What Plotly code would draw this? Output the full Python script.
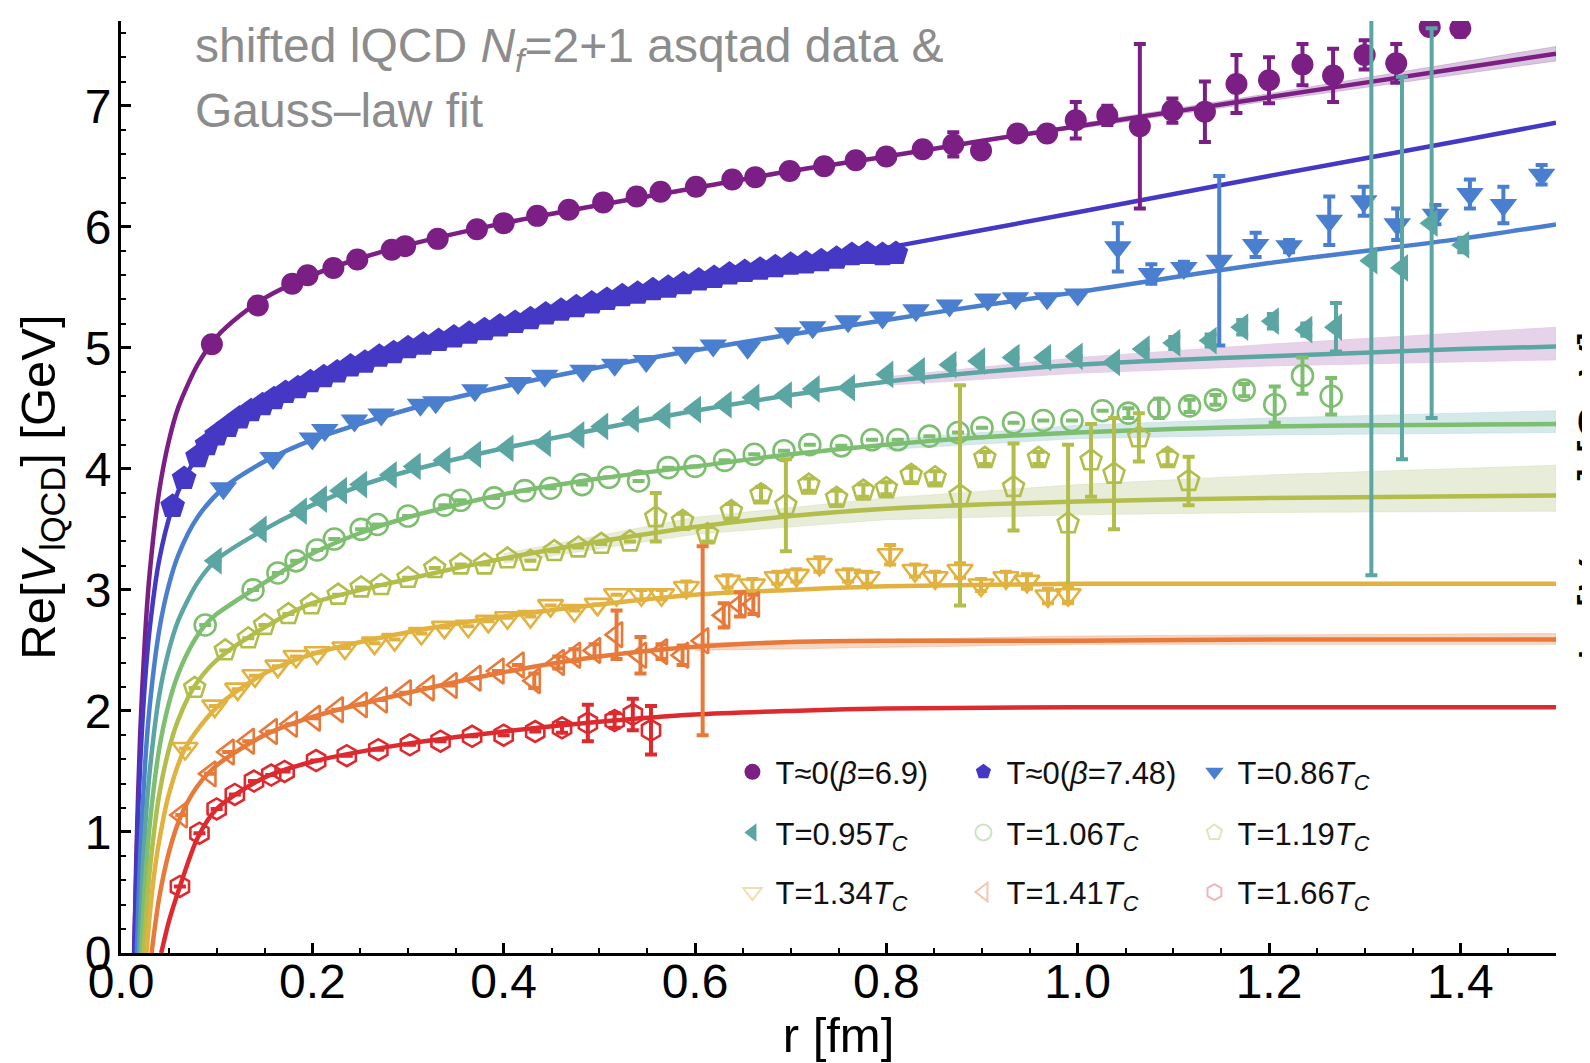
import plotly.graph_objects as go

# ---------------- data ----------------
# T~0 (beta=6.9), filled circles
rA = [0.095,0.143,0.179,0.195,0.222,0.247,0.283,0.297,0.331,0.372,0.400,0.435,0.468,0.504,0.539,0.564,0.601,0.639,0.663,0.699,0.735,0.768,0.800,0.838,0.870,0.899,0.937,0.968,0.998,1.031,1.065,1.099,1.133,1.166,1.200,1.235,1.267,1.300,1.333,1.368,1.400]
VA = [5.03,5.35,5.53,5.60,5.66,5.73,5.81,5.84,5.90,5.98,6.03,6.09,6.14,6.20,6.25,6.29,6.33,6.39,6.41,6.46,6.50,6.55,6.58,6.64,6.68,6.63,6.77,6.77,6.88,6.92,6.83,6.96,6.95,7.18,7.21,7.34,7.25,7.42,7.35,7.65,7.64]
eA = [0]*23 + [0.04,0.1,0.05,0.05,0.05,0.15,0.08,0.68,0.1,0.25,0.24,0.19,0.17,0.22,0.12,0.16,0.06,0.07]

# T~0 (beta=7.48), filled pentagons
rB = [0.054,0.066,0.080,0.090,0.100,0.112,0.124,0.136,0.148,0.160,0.172,0.185,0.198,0.212,0.226,0.240,0.255,0.270,0.285,0.300,0.316,0.332,0.348,0.364,0.380,0.396,0.412,0.428,0.444,0.460,0.476,0.492,0.508,0.524,0.540,0.556,0.572,0.588,0.604,0.620,0.636,0.652,0.668,0.684,0.700,0.716,0.732,0.748,0.764,0.780,0.796,0.810]
VB = [3.69,3.92,4.10,4.20,4.28,4.35,4.42,4.48,4.53,4.58,4.63,4.67,4.72,4.76,4.80,4.85,4.88,4.93,4.96,5.00,5.03,5.06,5.09,5.12,5.15,5.18,5.21,5.24,5.28,5.31,5.34,5.37,5.40,5.43,5.45,5.48,5.50,5.53,5.56,5.58,5.61,5.63,5.65,5.67,5.69,5.70,5.72,5.74,5.77,5.78,5.77,5.78]

# T=0.86 Tc, filled down-triangles
rC = [0.107,0.159,0.200,0.213,0.244,0.272,0.313,0.329,0.370,0.415,0.443,0.483,0.516,0.549,0.590,0.619,0.655,0.697,0.723,0.760,0.796,0.831,0.866,0.906,0.935,0.968,1.000,1.042,1.077,1.111,1.148,1.186,1.221,1.263,1.299,1.334,1.374,1.410,1.445,1.485]
VC = [3.84,4.09,4.25,4.32,4.40,4.45,4.53,4.55,4.65,4.71,4.77,4.81,4.86,4.89,4.96,5.02,5.00,5.12,5.17,5.22,5.25,5.31,5.35,5.40,5.41,5.41,5.44,5.83,5.61,5.66,5.72,5.85,5.84,6.05,6.21,6.02,6.10,6.27,6.18,6.43]
eC = [0]*27 + [0.2,0.08,0.05,0.7,0.1,0.05,0.2,0.12,0.13,0.08,0.12,0.15,0.08]

# T=0.95 Tc, filled left-triangles
rD = [0.099,0.146,0.188,0.209,0.230,0.251,0.282,0.307,0.338,0.370,0.404,0.443,0.478,0.503,0.535,0.568,0.600,0.632,0.661,0.695,0.724,0.761,0.801,0.834,0.867,0.897,0.933,0.966,0.999,1.038,1.069,1.101,1.139,1.172,1.204,1.239,1.270,1.307,1.339,1.370,1.403]
VD = [3.24,3.50,3.65,3.75,3.82,3.87,3.95,4.02,4.07,4.12,4.17,4.21,4.28,4.35,4.41,4.44,4.49,4.53,4.59,4.61,4.66,4.67,4.78,4.81,4.86,4.89,4.92,4.92,4.93,4.88,4.99,5.04,5.06,5.17,5.22,5.15,5.17,5.72,5.66,6.03,5.85]
eD = [0]*31 + [0.05,0.05,0.06,0.06,0.05,0.2,2.6,1.58,1.61,0.06]

# T=1.06 Tc, open circles
rE = [0.088,0.138,0.164,0.183,0.205,0.223,0.251,0.268,0.300,0.338,0.355,0.390,0.422,0.449,0.482,0.510,0.541,0.572,0.600,0.631,0.662,0.693,0.720,0.753,0.785,0.812,0.845,0.875,0.900,0.933,0.964,0.994,1.026,1.053,1.085,1.117,1.144,1.174,1.206,1.235,1.265]
VE = [2.71,3.00,3.14,3.24,3.33,3.42,3.50,3.54,3.61,3.70,3.74,3.76,3.82,3.84,3.87,3.93,3.90,4.01,4.02,4.07,4.12,4.15,4.20,4.19,4.24,4.24,4.27,4.30,4.34,4.38,4.40,4.40,4.48,4.46,4.50,4.52,4.57,4.65,4.53,4.77,4.60]
eE = [0]*33 + [0.04,0.08,0.05,0.04,0.05,0.15,0.15,0.15]

# T=1.19 Tc, open pentagons
rF = [0.077,0.109,0.133,0.150,0.175,0.199,0.227,0.251,0.272,0.300,0.328,0.355,0.380,0.404,0.428,0.453,0.478,0.502,0.532,0.559,0.587,0.613,0.638,0.669,0.695,0.719,0.748,0.776,0.800,0.826,0.851,0.877,0.903,0.933,0.959,0.990,1.014,1.038,1.064,1.094,1.116]
VF = [2.19,2.50,2.60,2.71,2.80,2.88,2.96,3.02,3.04,3.10,3.18,3.21,3.21,3.26,3.24,3.32,3.35,3.38,3.40,3.60,3.57,3.46,3.65,3.79,3.70,3.87,3.76,3.82,3.84,3.95,3.93,3.78,4.09,3.85,4.09,3.55,4.07,3.96,4.26,4.09,3.90]
eF = [0]*19 + [0.2,0.06,0.06,0.06,0.06,0.38,0.05,0.06,0.05,0.05,0.06,0.05,0.91,0.05,0.36,0.05,0.65,0.3,0.46,0.2,0.06,0.2]

# T=1.34 Tc, open down-triangles
rG = [0.067,0.098,0.122,0.140,0.164,0.183,0.205,0.234,0.265,0.286,0.314,0.338,0.363,0.384,0.404,0.428,0.449,0.474,0.498,0.518,0.544,0.565,0.591,0.634,0.660,0.686,0.706,0.730,0.760,0.780,0.804,0.830,0.851,0.877,0.899,0.925,0.947,0.969,0.990]
VG = [1.69,2.04,2.18,2.29,2.37,2.45,2.48,2.52,2.56,2.59,2.64,2.69,2.70,2.74,2.77,2.78,2.87,2.83,2.88,2.96,2.96,2.96,3.02,3.07,3.04,3.10,3.12,3.21,3.12,3.10,3.29,3.16,3.10,3.16,3.04,3.10,3.07,2.95,2.96]
eG = [0]*20 + [0.04,0.04,0.05,0.05,0.05,0.05,0.05,0.06,0.05,0.05,0.08,0.05,0.05,0.06,0.05,0.05,0.06,0.06,0.07]

# T=1.41 Tc, open left-triangles
rH = [0.063,0.093,0.112,0.133,0.157,0.178,0.202,0.226,0.251,0.272,0.297,0.321,0.345,0.370,0.394,0.415,0.432,0.457,0.474,0.495,0.518,0.543,0.565,0.587,0.608,0.630,0.647,0.661]
VH = [1.14,1.48,1.66,1.75,1.83,1.89,1.94,2.01,2.05,2.09,2.15,2.19,2.21,2.27,2.33,2.38,2.25,2.40,2.46,2.50,2.63,2.46,2.49,2.46,2.58,2.79,2.88,2.88]
eH = [0]*16 + [0.06,0.05,0.05,0.05,0.2,0.15,0.06,0.08,0.78,0.1,0.1,0.08]

# T=1.66 Tc, open hexagons
rI = [0.0616,0.082,0.100,0.119,0.139,0.157,0.171,0.204,0.236,0.269,0.302,0.334,0.367,0.400,0.433,0.461,0.488,0.516,0.535,0.554]
VI = [0.55,0.99,1.19,1.31,1.42,1.47,1.50,1.59,1.63,1.68,1.72,1.75,1.79,1.80,1.83,1.86,1.90,1.92,1.97,1.84]
eI = [0]*15 + [0.04,0.15,0.06,0.13,0.2]

# Gauss-law fit curves
fitA_r = [0.0138,0.016,0.02,0.025,0.03,0.04,0.05,0.06,0.08,0.1,0.125,0.15,0.2,0.25,0.3,0.4,0.5,0.6,0.7,0.8,0.9,1.0,1.2,1.4,1.5]
fitA_V = [0.0,0.79,1.80,2.60,3.14,3.82,4.23,4.51,4.86,5.09,5.27,5.41,5.60,5.74,5.85,6.03,6.18,6.32,6.46,6.58,6.71,6.83,7.07,7.31,7.43]
fitB_r = [0.0137,0.017,0.02,0.025,0.03,0.04,0.054,0.066,0.08,0.1,0.125,0.15,0.2,0.25,0.3,0.4,0.5,0.6,0.7,0.81,1.0,1.2,1.4,1.5]
fitB_V = [0.0,0.95,1.55,2.23,2.68,3.25,3.69,3.92,4.10,4.28,4.43,4.54,4.73,4.88,5.00,5.19,5.39,5.55,5.69,5.84,6.12,6.42,6.71,6.86]
fitC_r = [0.0165,0.02,0.025,0.03,0.04,0.05,0.06,0.08,0.107,0.15,0.2,0.3,0.4,0.5,0.6,0.7,0.8,0.9,1.0,1.2,1.4,1.5]
fitC_V = [0.0,0.79,1.54,2.04,2.67,3.04,3.29,3.60,3.84,4.06,4.24,4.49,4.68,4.84,4.98,5.11,5.23,5.35,5.46,5.70,5.90,6.02]
fitD_r = [0.0188,0.022,0.026,0.03,0.04,0.05,0.06,0.08,0.1,0.15,0.2,0.25,0.3,0.4,0.5,0.6,0.7,0.8,0.9,1.0,1.1,1.2,1.3,1.4,1.5]
fitD_V = [0.0,0.59,1.12,1.50,2.13,2.50,2.75,3.06,3.25,3.50,3.70,3.86,3.98,4.17,4.33,4.48,4.61,4.72,4.80,4.86,4.90,4.93,4.96,4.99,5.01]
fitE_r = [0.021,0.025,0.03,0.04,0.05,0.06,0.075,0.088,0.1,0.15,0.2,0.25,0.3,0.4,0.5,0.6,0.7,0.8,0.9,1.0,1.2,1.5]
fitE_V = [0.0,0.56,1.06,1.69,2.06,2.31,2.56,2.71,2.80,3.06,3.30,3.47,3.60,3.79,3.92,4.02,4.12,4.20,4.26,4.30,4.35,4.37]
fitF_r = [0.0236,0.027,0.03,0.04,0.05,0.06,0.0765,0.1,0.15,0.2,0.3,0.4,0.5,0.6,0.7,0.8,1.0,1.2,1.5]
fitF_V = [0.0,0.40,0.68,1.31,1.68,1.93,2.20,2.42,2.69,2.89,3.09,3.26,3.40,3.52,3.61,3.67,3.73,3.76,3.78]
fitG_r = [0.0267,0.03,0.035,0.04,0.05,0.067,0.1,0.15,0.2,0.3,0.4,0.5,0.6,0.7,0.8,1.0,1.2,1.5]
fitG_V = [0.0,0.31,0.67,0.93,1.31,1.69,2.03,2.31,2.47,2.65,2.78,2.88,2.96,3.00,3.03,3.05,3.05,3.05]
fitH_r = [0.032,0.035,0.04,0.05,0.063,0.08,0.1,0.15,0.2,0.3,0.4,0.5,0.6,0.7,0.8,1.0,1.2,1.5]
fitH_V = [0.0,0.19,0.46,0.83,1.14,1.38,1.55,1.80,1.95,2.15,2.32,2.45,2.53,2.57,2.58,2.58,2.59,2.59]
fitI_r = [0.042,0.045,0.05,0.0616,0.08,0.1,0.15,0.2,0.3,0.4,0.5,0.6,0.7,0.8,1.0,1.2,1.5]
fitI_V = [0.0,0.10,0.26,0.55,0.95,1.19,1.45,1.58,1.73,1.83,1.91,1.97,2.00,2.02,2.03,2.03,2.03]

# fit-uncertainty bands
bandA_r = [1.0,1.2,1.5];            bandA_lo = [6.81,7.04,7.37];            bandA_hi = [6.85,7.10,7.49]
bandD_r = [0.8,1.0,1.2,1.5];        bandD_lo = [4.69,4.79,4.85,4.90];       bandD_hi = [4.76,4.92,5.03,5.17]
bandE_r = [0.8,1.0,1.2,1.5];        bandE_lo = [4.16,4.25,4.28,4.30];       bandE_hi = [4.24,4.36,4.42,4.48]
bandF_r = [0.4,0.6,0.8,1.0,1.2,1.5]; bandF_lo = [3.22,3.46,3.58,3.62,3.64,3.65]; bandF_hi = [3.30,3.60,3.76,3.87,3.95,4.03]
bandH_r = [0.6,1.0,1.5];            bandH_lo = [2.50,2.55,2.55];            bandH_hi = [2.56,2.62,2.64]

labels = ["T≈0(<i>β</i>=6.9)", "T≈0(<i>β</i>=7.48)", "T=0.86<i>T</i><sub><i>C</i></sub>",
          "T=0.95<i>T</i><sub><i>C</i></sub>", "T=1.06<i>T</i><sub><i>C</i></sub>", "T=1.19<i>T</i><sub><i>C</i></sub>",
          "T=1.34<i>T</i><sub><i>C</i></sub>", "T=1.41<i>T</i><sub><i>C</i></sub>", "T=1.66<i>T</i><sub><i>C</i></sub>"]

# ---------------- styling ----------------
cols = ['#7B1F84', '#4438C4', '#4A7ECF', '#5BA6A3', '#7DBE70', '#B2BD4B', '#E2B240', '#E7793A', '#DD2A2F']
legcols = ['#7B1F84', '#4438C4', '#4A7ECF', '#5BA6A3', '#C9E4C2', '#E2E6BC', '#F2DDB0', '#F4C6AC', '#F0B6BA']
symbols = ['circle', 'pentagon', 'triangle-down', 'triangle-left', 'circle-open',
           'pentagon-open', 'triangle-down-open', 'triangle-left-open', 'hexagon-open']
sizes = [22, 26, 24, 24, 21, 22, 22, 22, 21]
FONT = "Liberation Sans, Arial, sans-serif"

series = [(rA, VA, eA), (rB, VB, [0]*len(rB)), (rC, VC, eC), (rD, VD, eD), (rE, VE, eE),
          (rF, VF, eF), (rG, VG, eG), (rH, VH, eH), (rI, VI, eI)]
fits = [(fitA_r, fitA_V), (fitB_r, fitB_V), (fitC_r, fitC_V), (fitD_r, fitD_V), (fitE_r, fitE_V),
        (fitF_r, fitF_V), (fitG_r, fitG_V), (fitH_r, fitH_V), (fitI_r, fitI_V)]
bands = [(bandA_r, bandA_lo, bandA_hi, 'rgba(150,90,160,0.35)'),
         (bandD_r, bandD_lo, bandD_hi, 'rgba(222,196,226,0.75)'),
         (bandE_r, bandE_lo, bandE_hi, 'rgba(185,218,222,0.6)'),
         (bandF_r, bandF_lo, bandF_hi, 'rgba(205,214,170,0.45)'),
         (bandH_r, bandH_lo, bandH_hi, 'rgba(232,120,58,0.3)')]

fig = go.Figure()

for r, lo, hi, c in bands:
    fig.add_trace(go.Scatter(x=r + r[::-1], y=hi + lo[::-1], mode='lines', fill='toself',
                             fillcolor=c, line=dict(width=0.8, color=c), showlegend=False,
                             hoverinfo='skip'))

for (r, v), c in zip(fits, cols):
    fig.add_trace(go.Scatter(x=r, y=v, mode='lines', line=dict(color=c, width=4.5, shape='spline', smoothing=0.8),
                             showlegend=False, hoverinfo='skip'))

for i, ((r, v, e), c) in enumerate(zip(series, cols)):
    errs = [x if x > 0 else None for x in e]
    is_open = symbols[i].endswith('open')
    fig.add_trace(go.Scatter(
        x=r, y=v, mode='markers', showlegend=False,
        marker=dict(symbol=symbols[i], size=sizes[i], color=c,
                    line=dict(color=c, width=2.6 if is_open else 0)),
        error_y=dict(type='data', array=errs, visible=True, thickness=4, width=6, color=c)))

# legend entries (three rows of three)
leg_names = ['legend', 'legend', 'legend', 'legend2', 'legend2', 'legend2', 'legend3', 'legend3', 'legend3']
for i in range(9):
    is_open = symbols[i].endswith('open')
    fig.add_trace(go.Scatter(
        x=[None], y=[None], mode='markers', name=labels[i], legend=leg_names[i], showlegend=True,
        marker=dict(symbol=symbols[i], size=20, color=legcols[i],
                    line=dict(color=legcols[i], width=2 if is_open else 0))))

leg_common = dict(orientation='h', xanchor='left', yanchor='middle', bgcolor='rgba(0,0,0,0)',
                  font=dict(family=FONT, size=31, color='#111111'), entrywidth=180,
                  entrywidthmode='pixels', itemsizing='trace', tracegroupgap=0, itemwidth=36)
ax_common = dict(showline=True, linecolor='black', linewidth=3, mirror=False, showgrid=False,
                 zeroline=False, ticks='inside', ticklen=10, tickwidth=2.5, tickcolor='black',
                 tickfont=dict(family=FONT, size=48, color='black'),
                 minor=dict(ticks='inside', ticklen=5, tickwidth=2, tickcolor='black'))

fig.update_layout(
    width=1590, height=1063,
    margin=dict(l=113, r=42, t=13, b=118),
    paper_bgcolor='white', plot_bgcolor='white',
    font=dict(family=FONT, color='black'),
    xaxis=dict(range=[0, 1.5], dtick=0.2, tick0=0, tickformat='.1f', ticklabelstandoff=-16,
               title=dict(text='r [fm]', font=dict(family=FONT, size=49), standoff=0),
               minor_dtick=0.05, automargin=False, **ax_common),
    yaxis=dict(range=[0, 7.70], dtick=1, tick0=0, ticklabelstandoff=-3,
               title=dict(text='Re[<i>V</i><sub>lQCD</sub>] [GeV]', font=dict(family=FONT, size=49), standoff=14),
               minor_dtick=0.2, automargin=False, **ax_common),
    legend=dict(x=0.424, y=0.194, **leg_common),
    legend2=dict(x=0.424, y=0.129, **leg_common),
    legend3=dict(x=0.424, y=0.065, **leg_common),
    annotations=[
        dict(text='shifted lQCD <i>N</i><sub><i>f</i></sub>=2+1 asqtad data &', xref='paper', yref='paper',
             x=0.050, y=0.970, xanchor='left', yanchor='middle', showarrow=False,
             font=dict(family=FONT, size=48, color='#8C8C8C')),
        dict(text='Gauss–law fit', xref='paper', yref='paper',
             x=0.050, y=0.904, xanchor='left', yanchor='middle', showarrow=False,
             font=dict(family=FONT, size=48, color='#8C8C8C')),
        dict(text='Im[<i>V</i><sub>lQCD</sub>] [GeV]', xref='paper', yref='paper',
             x=1.030, y=0.49, xanchor='center', yanchor='middle', showarrow=False, textangle=-90,
             font=dict(family=FONT, size=48, color='black')),
    ],
)

fig.write_html("out.html")
